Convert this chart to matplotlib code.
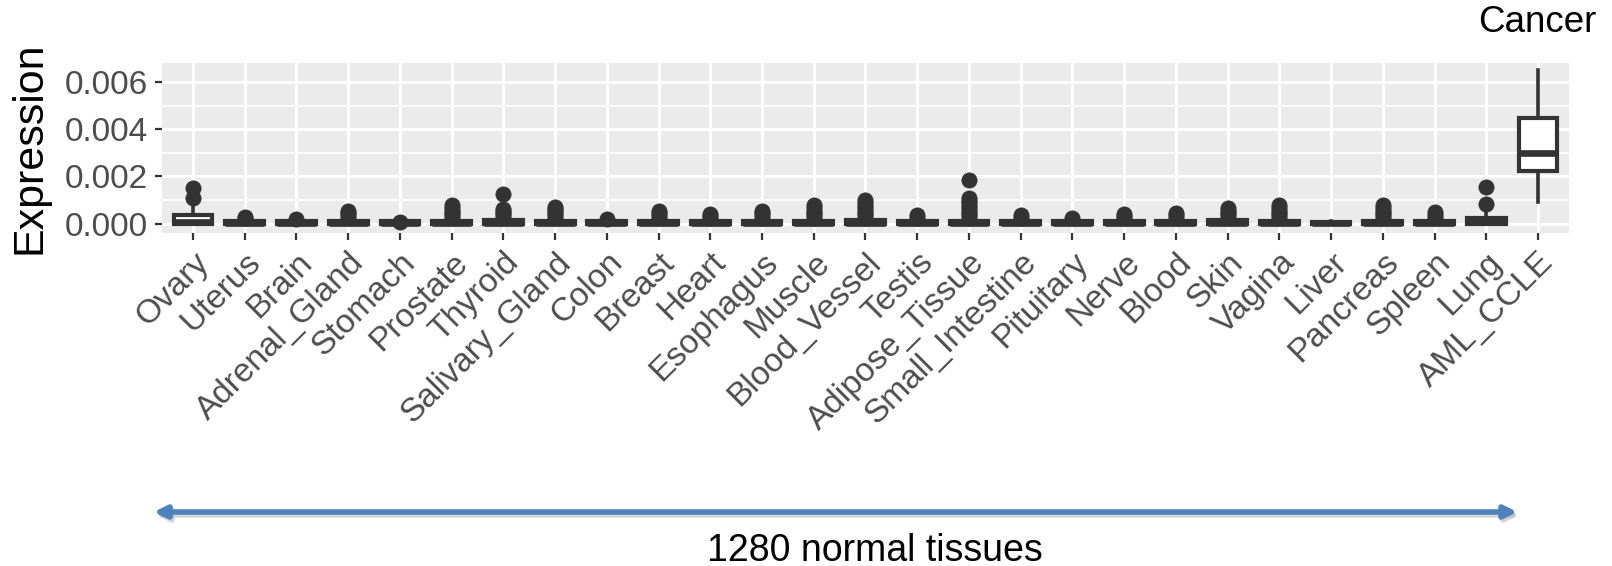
import matplotlib
matplotlib.use('Agg')
import matplotlib.pyplot as plt

plt.rcParams['font.family'] = ['Liberation Sans', 'DejaVu Sans']

tissues = ['Ovary', 'Uterus', 'Brain', 'Adrenal_Gland', 'Stomach', 'Prostate',
           'Thyroid', 'Salivary_Gland', 'Colon', 'Breast', 'Heart', 'Esophagus',
           'Muscle', 'Blood_Vessel', 'Testis', 'Adipose_Tissue', 'Small_Intestine',
           'Pituitary', 'Nerve', 'Blood', 'Skin', 'Vagina', 'Liver', 'Pancreas',
           'Spleen', 'Lung', 'AML_CCLE']

# box stats
q1 = [0.0, 0.0, 0.0, 0.0, 0.0, 0.0, 0.0, 0.0, 0.0, 0.0, 0.0, 0.0, 0.0, 0.0,
      0.0, 0.0, 0.0, 0.0, 0.0, 0.0, 0.0, 0.0, 0.0, 0.0, 0.0, 0.0, 0.00221]
med = [0.00006, 0.00004, 0.00004, 0.00004, 0.00003, 0.00004, 0.00004, 0.00004,
       0.00004, 0.00004, 0.00004, 0.00004, 0.00004, 0.00004, 0.00004, 0.00004,
       0.00004, 0.00004, 0.00004, 0.00004, 0.00004, 0.00004, 0.00002, 0.00004,
       0.00004, 0.00008, 0.00300]
q3 = [0.00035, 0.00012, 0.00012, 0.00012, 0.00010, 0.00012, 0.00013, 0.00012,
      0.00012, 0.00012, 0.00012, 0.00012, 0.00012, 0.00014, 0.00012, 0.00012,
      0.00012, 0.00012, 0.00012, 0.00012, 0.00014, 0.00012, 0.00008, 0.00012,
      0.00012, 0.00025, 0.00446]
whis_lo = [0.0] * 26 + [0.00092]
whis_hi = [0.0007, 0.0002, 0.0002, 0.0002, 0.0001, 0.0002, 0.0002, 0.0002,
           0.0002, 0.0002, 0.0002, 0.0002, 0.0002, 0.0002, 0.0002, 0.0002,
           0.0002, 0.0002, 0.0002, 0.0002, 0.0002, 0.0002, 0.0001, 0.0002,
           0.0002, 0.0005, 0.0065]
outliers = [
    [0.00107, 0.00152],
    [0.00022, 0.00028],
    [0.0002],
    [0.00025, 0.00035, 0.00045, 0.00053],
    [0.00006],
    [0.00025, 0.00035, 0.00045, 0.00055, 0.00065, 0.00077],
    [0.00025, 0.00035, 0.00045, 0.00055, 0.00063, 0.00124],
    [0.00025, 0.00035, 0.00045, 0.00055, 0.00063, 0.0007],
    [0.0002],
    [0.00025, 0.00035, 0.00045, 0.00052],
    [0.00025, 0.00033, 0.00039],
    [0.00025, 0.00035, 0.00045, 0.00052],
    [0.00025, 0.00035, 0.00045, 0.00055, 0.00065, 0.00077],
    [0.00025, 0.00035, 0.00045, 0.00055, 0.00065, 0.00075, 0.00088, 0.001],
    [0.00025, 0.00035],
    [0.00025, 0.00035, 0.00045, 0.00055, 0.00065, 0.00075, 0.00085, 0.00097,
     0.0011, 0.00186],
    [0.00025, 0.00035],
    [0.00023],
    [0.00025, 0.00032, 0.00039],
    [0.00025, 0.00035, 0.00046],
    [0.00025, 0.00035, 0.00045, 0.00055, 0.00066],
    [0.00025, 0.00035, 0.00045, 0.00055, 0.00065, 0.0008],
    [],
    [0.00025, 0.00035, 0.00045, 0.00055, 0.00065, 0.00077],
    [0.00025, 0.00035, 0.00049],
    [0.00081, 0.00153],
    [],
]

stats = []
for i in range(len(tissues)):
    stats.append({'label': tissues[i], 'q1': q1[i], 'med': med[i], 'q3': q3[i],
                  'whislo': whis_lo[i], 'whishi': whis_hi[i], 'fliers': outliers[i]})

dark = '#333333'
fig = plt.figure(figsize=(16.12, 5.66), dpi=100)
ax = fig.add_axes([162 / 1612, 1 - 233 / 566, (1569 - 162) / 1612, (233 - 63) / 566])
ax.set_facecolor('#EBEBEB')

positions = list(range(1, len(tissues) + 1))
ax.bxp(stats, positions=positions, widths=0.75, patch_artist=True,
       showcaps=False, showfliers=True,
       boxprops=dict(facecolor='white', edgecolor=dark, linewidth=3.0),
       whiskerprops=dict(color=dark, linewidth=2.6),
       medianprops=dict(color=dark, linewidth=4.8, solid_capstyle='butt'),
       flierprops=dict(marker='o', markerfacecolor=dark, markeredgecolor=dark,
                       markersize=11, markeredgewidth=0.5),
       zorder=3)

ax.set_xlim(0.4, len(tissues) + 0.6)
ax.set_ylim(-0.0004, 0.0068)
ax.set_yticks([0.0, 0.002, 0.004, 0.006])
ax.set_yticklabels(['0.000', '0.002', '0.004', '0.006'])
ax.set_yticks([0.001, 0.003, 0.005], minor=True)
ax.set_xticks(positions)
ax.set_xticklabels(tissues, rotation=45, ha='right', va='top', rotation_mode='anchor')

ax.grid(True, which='major', color='white', linewidth=2.2)
ax.grid(True, which='minor', axis='y', color='white', linewidth=1.2)
ax.set_axisbelow(True)
for s in ax.spines.values():
    s.set_visible(False)
ax.tick_params(axis='both', which='major', length=5, width=1.6, color=dark,
               labelsize=24, labelcolor='#4D4D4D', pad=5)
ax.tick_params(axis='y', which='minor', length=0)

fig.text(30 / 1612, 1 - 148 / 566, 'Expression', rotation=90, fontsize=31,
         ha='center', va='center', color='black')
fig.text(1597 / 1612, 1 - 22 / 566, 'Cancer', fontsize=26.5,
         ha='right', va='center', color='black')

# bottom arrow with a soft shadow
fig.patches.append(matplotlib.patches.FancyArrowPatch(
    (153 / 1612, 1 - 515 / 566), (1522 / 1612, 1 - 515 / 566),
    transform=fig.transFigure, arrowstyle='<|-|>', mutation_scale=18,
    color='#BBBBBB', linewidth=4, alpha=0.6))
fig.patches.append(matplotlib.patches.FancyArrowPatch(
    (151 / 1612, 1 - 512 / 566), (1520 / 1612, 1 - 512 / 566),
    transform=fig.transFigure, arrowstyle='<|-|>', mutation_scale=18,
    color='#4F81BD', linewidth=4))
fig.text(875 / 1612, 1 - 551 / 566, '1280 normal tissues', fontsize=27,
         family=['Liberation Sans Narrow', 'Liberation Sans'],
         ha='center', va='center', color='black')

plt.savefig('out.png', dpi=100)
